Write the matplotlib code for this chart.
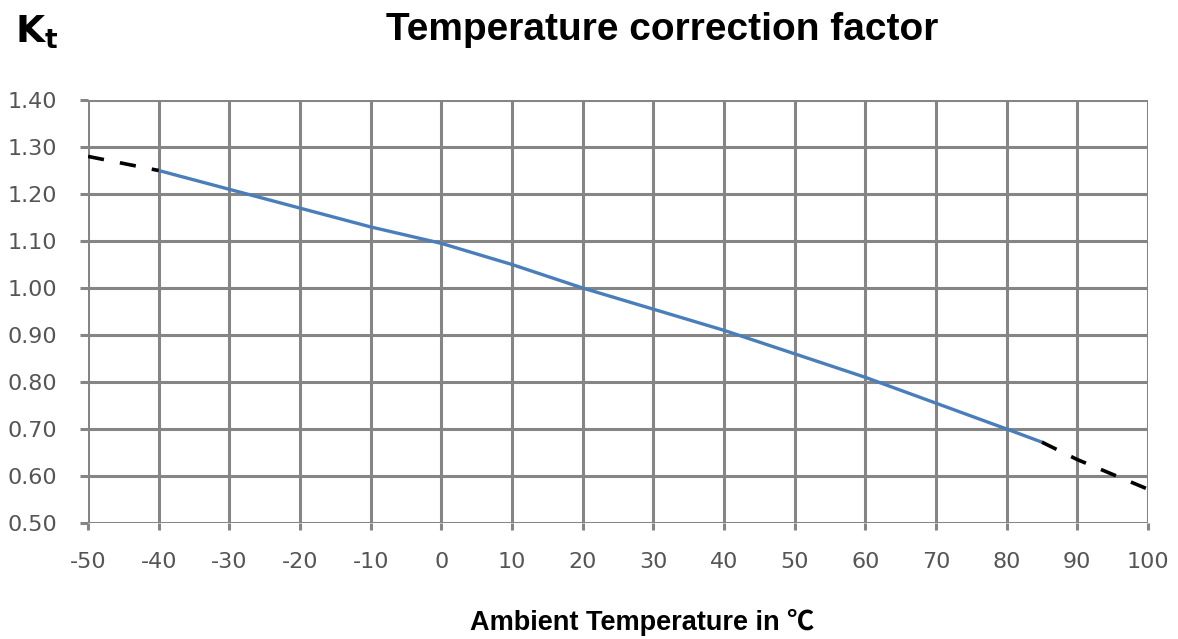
import numpy as np
import matplotlib
matplotlib.use('Agg')
import matplotlib.pyplot as plt

plt.rcParams['axes.unicode_minus'] = False

# measured curve (solid part)
temp_solid = [-40, -30, -20, -10, 0, 10, 20, 30, 40, 50, 60, 70, 80, 85]
kt_solid = [1.25, 1.21, 1.17, 1.13, 1.095, 1.05, 1.00, 0.955, 0.91, 0.86, 0.81, 0.755, 0.70, 0.672]

# extrapolated ends (dashed)
temp_low = [-50, -40]
kt_low = [1.28, 1.25]
temp_high = [85, 90, 100]
kt_high = [0.672, 0.635, 0.572]

x_ticks = np.arange(-50, 101, 10)
y_ticks = np.arange(0.5, 1.41, 0.1)

fig = plt.figure(figsize=(11.78, 6.39), dpi=100)
ax = fig.add_axes([0.0747, 0.1815, 0.8998, 0.662])

ax.plot(temp_solid, kt_solid, color='#4a7ebb', linewidth=2.4, zorder=3)
ax.plot(temp_low, kt_low, color='k', linewidth=2.6, linestyle=(0, (4.5, 4.5)), zorder=3)
ax.plot(temp_high, kt_high, color='k', linewidth=2.6, linestyle=(0, (4.5, 4.5)), zorder=3)

ax.set_xlim(-50, 100)
ax.set_ylim(0.5, 1.4)
ax.set_xticks(x_ticks)
ax.set_xticklabels([str(v) for v in x_ticks])
ax.set_yticks(y_ticks)
ax.set_yticklabels(['%.2f' % v for v in y_ticks])
ax.grid(color='#858585', linewidth=2.2)
ax.set_axisbelow(True)
for s in ax.spines.values():
  s.set_visible(False)
ax.tick_params(axis='both', colors='#858585', width=2.2, labelcolor='#555555', labelsize=16)
ax.tick_params(axis='x', length=5, pad=16)
ax.tick_params(axis='y', length=6, pad=16)

fig.text(0.562, 0.953, 'Temperature correction factor', ha='center', va='center',
         fontsize=28, fontweight='bold', family='Liberation Sans')
fig.text(0.013, 0.950, '$\\mathbf{K_t}$', ha='left', va='center', fontsize=27)
fig.text(0.545, 0.026, 'Ambient Temperature in \u2103', ha='center', va='center',
         fontsize=19.5, fontweight='bold', family=['Liberation Sans', 'Noto Sans CJK SC'])

plt.savefig('out.png', dpi=100)
